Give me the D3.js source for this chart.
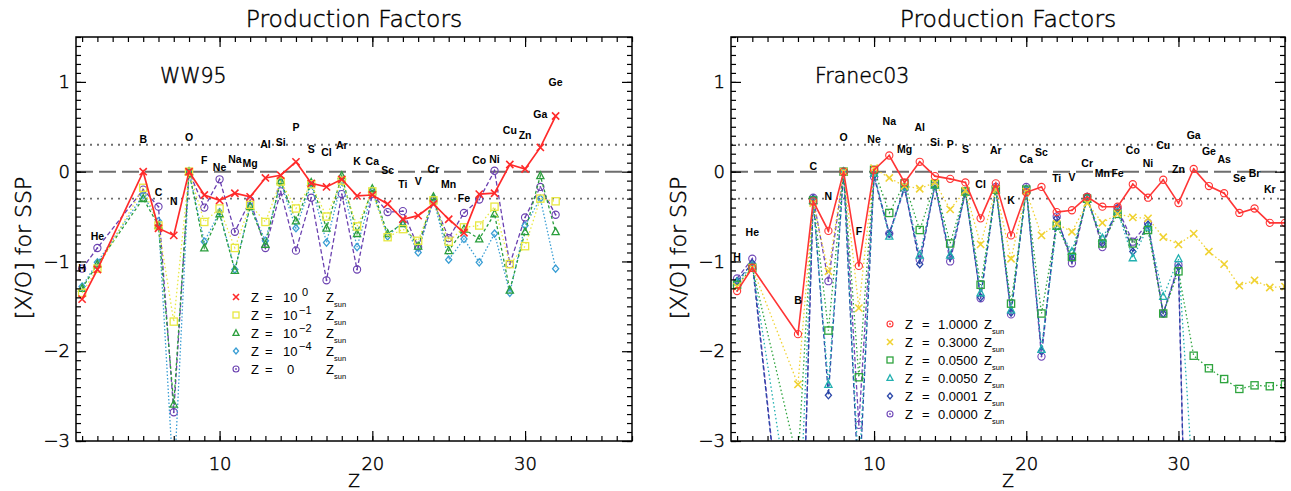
<!DOCTYPE html>
<html><head><meta charset="utf-8">
<script src="https://cdn.jsdelivr.net/npm/d3@7"></script>
<style>body{margin:0;background:#fff;overflow:hidden}</style>
</head><body>
<svg id="chart" width="1291" height="491"></svg>
<script>
// ---------------- DATA ----------------
const xDomain = [0.6, 37];
const yDomain = [-3, 1.5];
const xMajorTicks = [10, 20, 30];
const yMajorTicks = [-3, -2, -1, 0, 1];

// Left panel: WW95
const wwElements = ["H","He","B","C","N","O","F","Ne","Na","Mg","Al","Si","P","S","Cl","Ar","K","Ca","Sc","Ti","V","Cr","Mn","Fe","Co","Ni","Cu","Zn","Ga","Ge"];
const wwZ = [1,2,5,6,7,8,9,10,11,12,13,14,15,16,17,18,19,20,21,22,23,24,25,26,27,28,29,30,31,32];
const wwLabelY = [-1.08,-0.72,0.36,-0.23,-0.33,0.38,0.13,0.05,0.14,0.09,0.30,0.33,0.49,0.25,0.22,0.29,0.11,0.12,0.02,-0.14,-0.11,0.03,-0.14,-0.30,0.13,0.14,0.46,0.41,0.64,1.00];
const wwZ1    = [-1.42,-1.09,0.00,-0.63,-0.71,0.00,-0.26,-0.32,-0.24,-0.28,-0.07,-0.04,0.11,-0.13,-0.17,-0.085,-0.27,-0.26,-0.36,-0.53,-0.49,-0.36,-0.53,-0.68,-0.25,-0.24,0.08,0.03,0.27,0.62];
const wwZ1em1 = [-1.35,-1.08,-0.18,-0.60,-1.67,0.00,-0.56,-0.41,-0.85,-0.37,-0.56,-0.11,-0.41,-0.14,-0.50,-0.10,-0.61,-0.22,-0.73,-0.64,-0.77,-0.32,-0.78,-0.62,-0.60,-0.39,-1.03,-0.83,-0.30,-0.33];
const wwZ1em2 = [-1.30,-1.03,-0.30,-0.60,-2.59,0.00,-0.85,-0.47,-1.10,-0.39,-0.81,-0.10,-0.55,-0.12,-0.63,-0.045,-0.69,-0.19,-0.69,-0.58,-0.83,-0.28,-0.88,-0.64,-0.75,-0.47,-1.32,-0.67,-0.045,-0.67];
const wwZ1em4 = [-1.28,-1.01,-0.26,-0.55,-3.50,0.00,-0.78,-0.45,-1.09,-0.38,-0.77,-0.12,-0.63,-0.14,-0.79,-0.11,-0.84,-0.22,-0.72,-0.56,-0.90,-0.30,-0.98,-0.75,-1.01,-0.69,-1.35,-0.60,-0.30,-1.08];
const wwZ0    = [-1.08,-0.85,-0.20,-0.39,-2.68,0.00,-0.40,-0.085,-0.67,-0.32,-0.85,-0.22,-0.88,-0.29,-1.21,-0.25,-1.09,-0.25,-0.45,-0.44,-0.84,-0.33,-0.74,-0.46,-0.31,0.01,-1.03,-0.51,-0.17,-0.48];
const wwLegendExp = ["0","\u22121","\u22122","\u22124",null];

// Right panel: Franec03
const frElements = ["H","He","B","C","N","O","F","Ne","Na","Mg","Al","Si","P","S","Cl","Ar","K","Ca","Sc","Ti","V","Cr","Mn","Fe","Co","Ni","Cu","Zn","Ga","Ge","As","Se","Br","Kr"];
const frLabelZ = [1,2,5,6,7,8,9,10,11,12,13,14,15,16,17,18,19,20,21,22,23,24,25,26,27,28,29,30,31,32,33,34,35,36];
const frLabelY = [-0.95,-0.68,-1.43,0.06,-0.28,0.38,-0.67,0.36,0.56,0.25,0.49,0.33,0.30,0.25,-0.14,0.24,-0.32,0.14,0.22,-0.07,-0.06,0.09,-0.02,-0.02,0.24,0.09,0.29,0.03,0.41,0.23,0.14,-0.07,-0.02,-0.20];
const frZ = [1,2,5,6,7,8,9,10,11,12,13,14,15,16,17,18,19,20,21,22,23,24,25,26,27,28,29,30,31,32,33,34,35,36,37];
const fr1    = [-1.33,-1.07,-1.81,-0.33,-0.66,0.00,-1.05,0.02,0.18,-0.12,0.11,-0.05,-0.08,-0.12,-0.52,-0.13,-0.71,-0.23,-0.17,-0.45,-0.43,-0.28,-0.39,-0.39,-0.14,-0.29,-0.09,-0.35,0.03,-0.16,-0.24,-0.46,-0.41,-0.57,-0.57];
const fr03   = [-1.28,-1.07,-2.37,-0.35,-1.11,0.00,-1.52,0.04,-0.07,-0.16,-0.19,-0.12,-0.42,-0.21,-0.81,-0.20,-0.97,-0.22,-0.71,-0.58,-0.67,-0.35,-0.57,-0.47,-0.51,-0.52,-0.73,-0.81,-0.69,-0.89,-1.03,-1.27,-1.21,-1.29,-1.28];
const fr005  = [-1.26,-1.07,-3.24,-0.32,-1.77,0.00,-2.29,0.02,-0.46,-0.13,-0.65,-0.14,-0.80,-0.22,-1.26,-0.20,-1.47,-0.20,-1.58,-0.60,-0.95,-0.30,-0.80,-0.47,-0.80,-0.65,-1.58,-1.11,-2.05,-2.19,-2.31,-2.42,-2.38,-2.39,-2.37];
const fr0005 = [-1.23,-1.05,-4.34,-0.32,-2.37,0.00,-3.40,-0.02,-0.72,-0.17,-0.93,-0.15,-0.93,-0.23,-1.35,-0.20,-1.54,-0.20,-1.98,-0.61,-0.89,-0.31,-0.74,-0.44,-0.96,-0.62,-1.39,-0.97,-3.60,null,null,null,null,null,null];
const fr0001 = [-1.22,-1.02,-5.80,-0.30,-2.49,0.00,-3.60,-0.04,-0.69,-0.17,-1.03,-0.15,-0.95,-0.23,-1.40,-0.19,-1.57,-0.19,-2.00,-0.52,-0.97,-0.28,-0.80,-0.41,-0.89,-0.59,-1.58,-1.06,-8.00,null,null,null,null,null,null];
const fr0    = [-1.19,-0.97,-5.80,-0.29,-1.22,0.00,-2.82,-0.06,-0.69,-0.19,-0.98,-0.15,-1.00,-0.23,-1.41,-0.17,-1.59,-0.17,-2.06,-0.50,-1.02,-0.28,-0.84,-0.41,-0.78,-0.57,-1.58,-1.04,-8.00,null,null,null,null,null,null];
const frLegendVals = ["1.0000","0.3000","0.0500","0.0050","0.0001","0.0000"];

// ---------------- DRAW ----------------
const svg = d3.select("#chart");
const TOP = 37, BOTTOM = 441;
const FONT = "'DejaVu Sans', sans-serif";
const FW = 300;
const LFONT = "'Liberation Sans', Arial, sans-serif";

function thin(sel) {
  return sel.attr("font-family", FONT).attr("font-weight", FW).attr("fill", "#000")
    .attr("stroke", "#000").attr("stroke-width", 0.45);
}

function drawMarker(g, type, cx, cy, color, s) {
  s = s || 3.6;
  if (type === "x") {
    g.append("path").attr("d", `M${cx-s},${cy-s}L${cx+s},${cy+s}M${cx-s},${cy+s}L${cx+s},${cy-s}`)
      .attr("stroke", color).attr("stroke-width", 1.6).attr("fill", "none");
  } else if (type === "square") {
    g.append("rect").attr("x", cx-s).attr("y", cy-s).attr("width", 2*s).attr("height", 2*s)
      .attr("stroke", color).attr("stroke-width", 1.3).attr("fill", "none");
  } else if (type === "triangle") {
    g.append("path").attr("d", `M${cx},${cy-s*1.1}L${cx+s},${cy+s*0.8}L${cx-s},${cy+s*0.8}Z`)
      .attr("stroke", color).attr("stroke-width", 1.3).attr("fill", "none");
  } else if (type === "diamond") {
    g.append("path").attr("d", `M${cx},${cy-s}L${cx+s*0.85},${cy}L${cx},${cy+s}L${cx-s*0.85},${cy}Z`)
      .attr("stroke", color).attr("stroke-width", 1.3).attr("fill", "none");
  } else if (type === "circledot") {
    g.append("circle").attr("cx", cx).attr("cy", cy).attr("r", s)
      .attr("stroke", color).attr("stroke-width", 1.1).attr("fill", "none");
    g.append("circle").attr("cx", cx).attr("cy", cy).attr("r", 0.9).attr("fill", color);
  }
}

function drawPanel(cfg) {
  const x = d3.scaleLinear().domain(xDomain).range([cfg.left, cfg.right]);
  const y = d3.scaleLinear().domain(yDomain).range([BOTTOM, TOP]);
  const clipId = "clip" + cfg.id;
  svg.append("clipPath").attr("id", clipId).append("rect")
    .attr("x", cfg.left).attr("y", TOP).attr("width", cfg.right - cfg.left).attr("height", BOTTOM - TOP);

  const g = svg.append("g");
  // reference lines
  const ref = g.append("g").attr("clip-path", `url(#${clipId})`);
  ref.append("line").attr("x1", cfg.left).attr("x2", cfg.right).attr("y1", y(0)).attr("y2", y(0))
    .attr("stroke", "#6e6e6e").attr("stroke-width", 2).attr("stroke-dasharray", "17,6");
  [0.3, -0.3].forEach(v => {
    ref.append("line").attr("x1", cfg.left).attr("x2", cfg.right).attr("y1", y(v)).attr("y2", y(v))
      .attr("stroke", "#6e6e6e").attr("stroke-width", 1.8).attr("stroke-dasharray", "2,5");
  });

  // series (draw last-first so first series is on top)
  const data = g.append("g").attr("clip-path", `url(#${clipId})`);
  cfg.series.slice().reverse().forEach(s => {
    const pts = cfg.z.map((z, i) => [z, s.values[i]]).filter(p => p[1] !== null && p[1] !== undefined);
    const line = d3.line().x(p => x(p[0])).y(p => y(p[1]));
    data.append("path").attr("d", line(pts)).attr("fill", "none")
      .attr("stroke", s.color).attr("stroke-width", s.width || 1.3)
      .attr("stroke-dasharray", s.dash || null);
    const mg = data.append("g");
    pts.forEach(p => drawMarker(mg, s.marker, x(p[0]), y(p[1]), s.color));
  });

  // element labels
  const lab = g.append("g").attr("font-family", LFONT).attr("font-weight", "bold").attr("font-size", 10.5)
    .attr("text-anchor", "middle").attr("fill", "#000");
  cfg.labels.forEach((name, i) => {
    lab.append("text").attr("x", x(cfg.labelZ[i])).attr("y", y(cfg.labelY[i])).attr("dy", "0.35em").text(name);
  });

  // axes
  const fmt = d => d < 0 ? "\u2212" + Math.abs(d) : String(d);
  const minorX = d3.range(1, 38);
  const minorY = d3.range(-30, 16).map(i => i / 10);
  const styleAxis = (sel, labels) => {
    sel.select(".domain").remove();
    sel.selectAll("line").attr("stroke", "#000").attr("stroke-width", 1.2);
    thin(sel.selectAll("text")).attr("font-size", 18);
    if (!labels) sel.selectAll("text").remove();
  };
  const ax = g.append("g");
  ax.append("g").attr("transform", `translate(0,${BOTTOM})`)
    .call(d3.axisBottom(x).tickValues(minorX).tickSize(-5).tickFormat("")).call(s => styleAxis(s, false));
  ax.append("g").attr("transform", `translate(0,${BOTTOM})`)
    .call(d3.axisBottom(x).tickValues(xMajorTicks).tickSize(-10).tickPadding(16).tickFormat(fmt)).call(s => styleAxis(s, true));
  ax.append("g").attr("transform", `translate(0,${TOP})`)
    .call(d3.axisTop(x).tickValues(minorX).tickSize(-5).tickFormat("")).call(s => styleAxis(s, false));
  ax.append("g").attr("transform", `translate(0,${TOP})`)
    .call(d3.axisTop(x).tickValues(xMajorTicks).tickSize(-10).tickFormat("")).call(s => styleAxis(s, false));
  ax.append("g").attr("transform", `translate(${cfg.left},0)`)
    .call(d3.axisLeft(y).tickValues(minorY).tickSize(-5).tickFormat("")).call(s => styleAxis(s, false));
  ax.append("g").attr("transform", `translate(${cfg.left},0)`)
    .call(d3.axisLeft(y).tickValues(yMajorTicks).tickSize(-10).tickPadding(6).tickFormat(fmt)).call(s => styleAxis(s, true));
  ax.append("g").attr("transform", `translate(${cfg.right},0)`)
    .call(d3.axisRight(y).tickValues(minorY).tickSize(-5).tickFormat("")).call(s => styleAxis(s, false));
  ax.append("g").attr("transform", `translate(${cfg.right},0)`)
    .call(d3.axisRight(y).tickValues(yMajorTicks).tickSize(-10).tickFormat("")).call(s => styleAxis(s, false));
  g.append("rect").attr("x", cfg.left).attr("y", TOP).attr("width", cfg.right - cfg.left).attr("height", BOTTOM - TOP)
    .attr("fill", "none").attr("stroke", "#000").attr("stroke-width", 1.5);

  const cx = (cfg.left + cfg.right) / 2;
  thin(g.append("text")).attr("x", cx).attr("y", 27).attr("text-anchor", "middle")
    .attr("font-size", 23.5).text("Production Factors");
  thin(g.append("text")).attr("x", cx).attr("y", 487).attr("text-anchor", "middle")
    .attr("font-size", 17).text("Z");
  thin(g.append("text")).attr("transform", `translate(${cfg.left - 53},248) rotate(-90)`).attr("text-anchor", "middle")
    .attr("dy", "0.35em").attr("font-size", 22).text("[X/O] for SSP");
  thin(g.append("text")).attr("x", cfg.panelLabelX).attr("y", 83)
    .attr("font-size", 20.5).text(cfg.panelLabel);

  // legend
  const lg = g.append("g").attr("font-family", LFONT).attr("font-size", 13).attr("fill", "#000");
  cfg.series.forEach((s, i) => {
    const ly = cfg.legY + i * cfg.legStep;
    drawMarker(lg, s.marker, cfg.legX, ly, s.color, 3);
    cfg.legendText(lg, i, ly);
  });
}

const wwSeries = [
  {values: wwZ1,    color: "#ff2a2a", dash: null,       width: 1.7, marker: "x"},
  {values: wwZ1em1, color: "#e8e840", dash: "1.5,2.5",  width: 1.3, marker: "square"},
  {values: wwZ1em2, color: "#2a9e3c", dash: "3,2.5",    width: 1.3, marker: "triangle"},
  {values: wwZ1em4, color: "#3a9ed4", dash: "1.5,2",    width: 1.3, marker: "diamond"},
  {values: wwZ0,    color: "#6a40b0", dash: "4.5,2.5",  width: 1.3, marker: "circledot"}
];
const frSeries = [
  {values: fr1,    color: "#ff3535", dash: null,      width: 1.6, marker: "circledot"},
  {values: fr03,   color: "#f0d232", dash: "1.5,2.5", width: 1.3, marker: "x"},
  {values: fr005,  color: "#2ea43e", dash: "1.5,2.5", width: 1.3, marker: "square"},
  {values: fr0005, color: "#22b0b0", dash: "1.5,2.5", width: 1.3, marker: "triangle"},
  {values: fr0001, color: "#2a46a8", dash: "4.5,2.5", width: 1.3, marker: "diamond"},
  {values: fr0,    color: "#7048b8", dash: "4.5,2.5", width: 1.3, marker: "circledot"}
];

drawPanel({
  id: "L", left: 76, right: 632, z: wwZ, series: wwSeries,
  labels: wwElements, labelZ: wwZ, labelY: wwLabelY,
  panelLabel: "WW95", panelLabelX: 160,
  legX: 236, legY: 297, legStep: 18,
  legendText: (lg, i, ly) => {
    const b = ly + 4.5;
    lg.append("text").attr("x", 251).attr("y", b).text("Z");
    lg.append("text").attr("x", 265).attr("y", b).text("=");
    const e = wwLegendExp[i];
    if (e !== null) {
      lg.append("text").attr("x", 283).attr("y", b).text("10");
      lg.append("text").attr("x", e === "0" ? 302 : 299).attr("y", b - 6).attr("font-size", 11).text(e);
    } else {
      lg.append("text").attr("x", 287).attr("y", b).text("0");
    }
    lg.append("text").attr("x", 326).attr("y", b).text("Z");
    lg.append("text").attr("x", 334).attr("y", b + 5).attr("font-size", 7.5).text("sun");
  }
});

drawPanel({
  id: "R", left: 731, right: 1285, z: frZ, series: frSeries,
  labels: frElements, labelZ: frLabelZ, labelY: frLabelY,
  panelLabel: "Franec03", panelLabelX: 815,
  legX: 890, legY: 324, legStep: 18,
  legendText: (lg, i, ly) => {
    const b = ly + 4.5;
    lg.append("text").attr("x", 905).attr("y", b).text("Z");
    lg.append("text").attr("x", 922).attr("y", b).text("=");
    lg.append("text").attr("x", 938).attr("y", b).text(frLegendVals[i]);
    lg.append("text").attr("x", 984).attr("y", b).text("Z");
    lg.append("text").attr("x", 992).attr("y", b + 5).attr("font-size", 7.5).text("sun");
  }
});
</script>
</body></html>
